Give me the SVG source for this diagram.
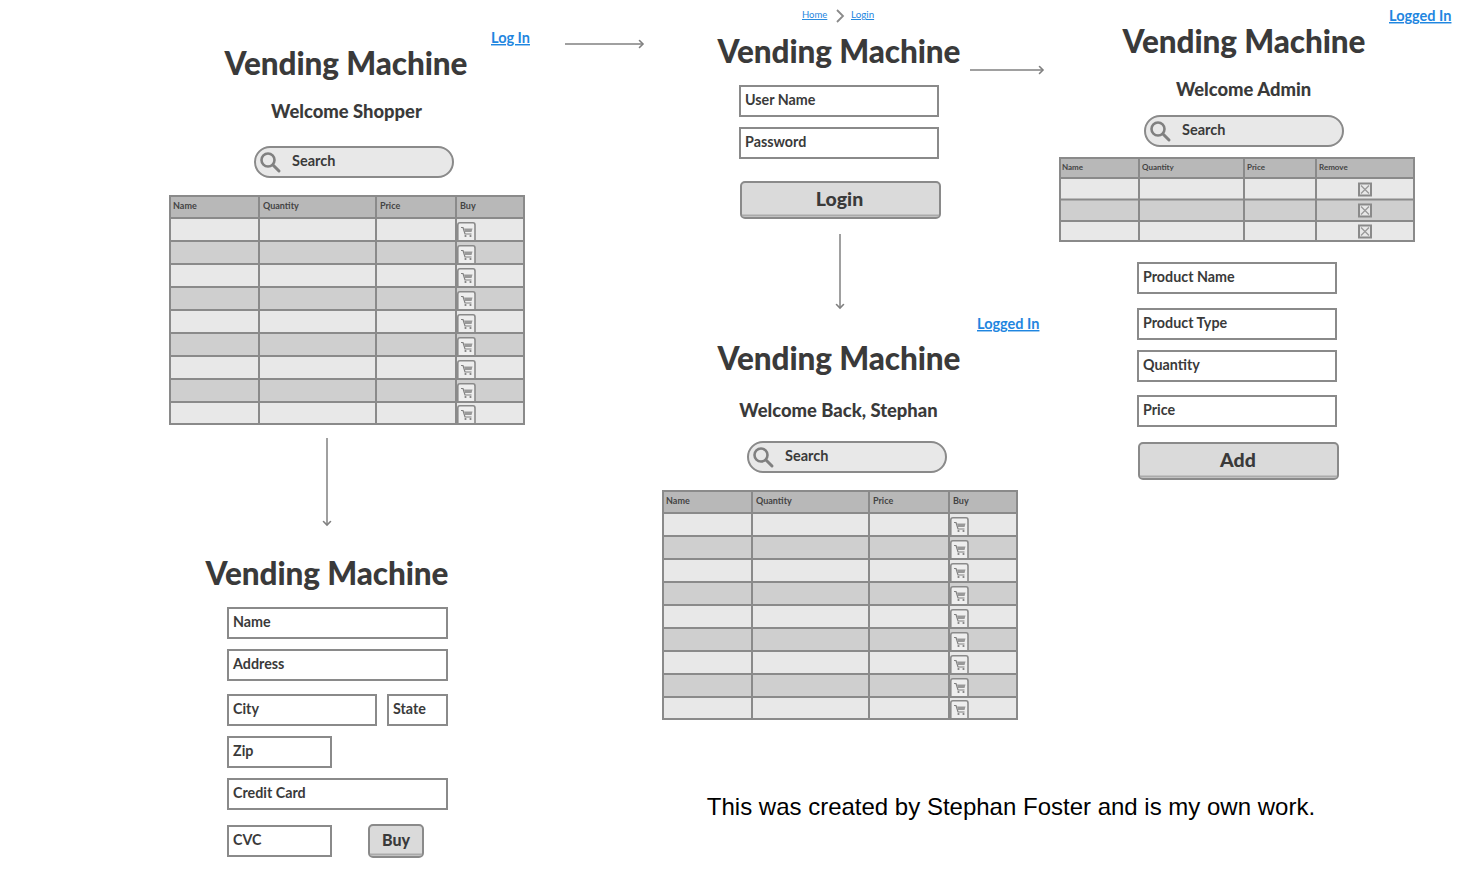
<svg xmlns="http://www.w3.org/2000/svg" width="1474" height="879" viewBox="0 0 1474 879">
<style>
text{font-family:Lato,"Open Sans",sans-serif;fill:#3a3a3a;font-weight:700}
.h{font-size:31.5px;text-anchor:middle;font-weight:900;letter-spacing:-.1px}
.w{font-size:18.4px;text-anchor:middle;font-weight:900}
.f{font-size:14.3px;font-weight:700}
.s{font-size:14.5px}
.t{font-size:9px;font-weight:700;fill:#444}
.b{font-size:19.5px;text-anchor:middle;font-weight:900}
.l{font-size:14.5px;fill:#1f86e0;text-decoration:underline}
.c{font-size:9.5px;fill:#1f86e0;font-weight:400;text-decoration:underline}
.box{fill:#fff;stroke:#8a8a8a;stroke-width:2}
.grid{stroke:#8a8a8a;stroke-width:2;fill:none}
.a{stroke:#808080;stroke-width:1.5;fill:none}
.ar{stroke:#808080;stroke-width:1.6;fill:none;stroke-linecap:round}
</style>
<defs>
<marker id="arr" markerWidth="10" markerHeight="10" refX="7" refY="5" orient="auto" markerUnits="userSpaceOnUse"><path d="M3.500 1.500L7 5L3.500 8.500" class="ar"/></marker>
<g id="search"><rect x="1" y="1" width="198" height="30" rx="15" fill="#e8e8e8" stroke="#8a8a8a" stroke-width="2"/><circle cx="14" cy="14" r="6.500" fill="none" stroke="#808080" stroke-width="2.600"/><path d="M19 19L25 25" stroke="#808080" stroke-width="3" stroke-linecap="round"/></g>
<g id="cart"><path d="M.8 18V3Q.8 .8 3 .8H16Q18 .8 18 3V18" fill="#eee" stroke="#8a8a8a" stroke-width="1.600"/><path d="M4 5.500h2l2 6.500h6.500" fill="none" stroke="#808080" stroke-width="1.200"/><path d="M7 6.500h8.500l-1 3.500H8z" fill="#999"/><circle cx="8.500" cy="14" r="1.100" fill="#808080"/><circle cx="13.500" cy="14" r="1.100" fill="#808080"/></g>
<g id="x"><rect x="1" y="1" width="12" height="12" fill="#e8e8e8" stroke="#8a8a8a" stroke-width="2"/><path d="M3 3L11 11M11 3L3 11" stroke="#999" stroke-width="1.300"/></g>
<g id="shoptable">
<rect x="0" y="0" width="356" height="23" fill="#b8b8b8"/>
<rect x="0" y="23" width="356" height="23" fill="#e8e8e8"/><rect x="0" y="46" width="356" height="23" fill="#cfcfcf"/><rect x="0" y="69" width="356" height="23" fill="#e8e8e8"/><rect x="0" y="92" width="356" height="23" fill="#cfcfcf"/><rect x="0" y="115" width="356" height="23" fill="#e8e8e8"/><rect x="0" y="138" width="356" height="23" fill="#cfcfcf"/><rect x="0" y="161" width="356" height="23" fill="#e8e8e8"/><rect x="0" y="184" width="356" height="23" fill="#cfcfcf"/><rect x="0" y="207" width="356" height="23" fill="#e8e8e8"/>
<path class="grid" d="M1 1H355V229H1ZM1 23H355M1 46H355M1 69H355M1 92H355M1 115H355M1 138H355M1 161H355M1 184H355M1 207H355M90 1V229M207 1V229M287 1V229"/>
<use href="#cart" x="288" y="27"/><use href="#cart" x="288" y="50"/><use href="#cart" x="288" y="73"/><use href="#cart" x="288" y="96"/><use href="#cart" x="288" y="119"/><use href="#cart" x="288" y="142"/><use href="#cart" x="288" y="165"/><use href="#cart" x="288" y="188"/><use href="#cart" x="288" y="210"/>
</g>
</defs>

<g id="connectors">
<path class="a" marker-end="url(#arr)" d="M565 44H643"/>
<path class="a" marker-end="url(#arr)" d="M970 70H1043"/>
<path class="a" marker-end="url(#arr)" d="M840 234V308"/>
<path class="a" marker-end="url(#arr)" d="M327 438V525"/>
</g>

<g id="screen-shopper">
<text class="l" x="491" y="43">Log In</text>
<text class="h" x="346" y="74.500">Vending Machine</text>
<text class="w" x="346.500" y="118">Welcome Shopper</text>
<use href="#search" x="254" y="146"/><text class="s" x="292" y="166">Search</text>
<use href="#shoptable" x="169" y="195"/>
<text class="t" x="173" y="209">Name</text><text class="t" x="263" y="209">Quantity</text><text class="t" x="380" y="209">Price</text><text class="t" x="460" y="209">Buy</text>
</g>

<g id="screen-checkout">
<text class="h" x="327" y="584.500">Vending Machine</text>
<rect class="box" x="228" y="608" width="219" height="30"/><text class="f" x="233" y="627">Name</text>
<rect class="box" x="228" y="650" width="219" height="30"/><text class="f" x="233" y="669">Address</text>
<rect class="box" x="228" y="695" width="148" height="30"/><text class="f" x="233" y="714">City</text>
<rect class="box" x="388" y="695" width="59" height="30"/><text class="f" x="393" y="714">State</text>
<rect class="box" x="228" y="737" width="103" height="30"/><text class="f" x="233" y="756">Zip</text>
<rect class="box" x="228" y="779" width="219" height="30"/><text class="f" x="233" y="798">Credit Card</text>
<rect class="box" x="228" y="826" width="103" height="30"/><text class="f" x="233" y="845">CVC</text>
<rect x="369" y="825" width="54" height="32" rx="4" fill="#dadada" stroke="#8a8a8a" stroke-width="2"/><path d="M370 854.500H422" stroke="#aaa" stroke-width="2"/>
<text class="b" x="396" y="846" style="font-size:16px">Buy</text>
</g>

<g id="screen-login">
<text class="c" x="802" y="18">Home</text>
<path d="M837 10L843 16L837 22" fill="none" stroke="#8a8a8a" stroke-width="1.800"/>
<text class="c" x="851" y="18" style="font-size:9.800px">Login</text>
<text class="h" x="839" y="62.500">Vending Machine</text>
<rect class="box" x="740" y="86" width="198" height="30"/><text class="f" x="745" y="105">User Name</text>
<rect class="box" x="740" y="128" width="198" height="30"/><text class="f" x="745" y="147">Password</text>
<rect x="741" y="182" width="199" height="36" rx="4" fill="#dadada" stroke="#8a8a8a" stroke-width="2"/><path d="M742 215.500H939" stroke="#aaa" stroke-width="2"/>
<text class="b" x="839.500" y="206">Login</text>
</g>

<g id="screen-member">
<text class="l" x="977" y="329">Logged In</text>
<text class="h" x="839" y="369.500">Vending Machine</text>
<text class="w" x="838.500" y="417">Welcome Back, Stephan</text>
<use href="#search" x="747" y="441"/><text class="s" x="785" y="461">Search</text>
<use href="#shoptable" x="662" y="490"/>
<text class="t" x="666" y="504">Name</text><text class="t" x="756" y="504">Quantity</text><text class="t" x="873" y="504">Price</text><text class="t" x="953" y="504">Buy</text>
</g>

<g id="screen-admin">
<text class="l" x="1389" y="21">Logged In</text>
<text class="h" x="1244" y="52.500">Vending Machine</text>
<text class="w" x="1243.500" y="96">Welcome Admin</text>
<use href="#search" x="1144" y="115"/><text class="s" x="1182" y="135">Search</text>
<rect x="1059" y="157" width="356" height="21" fill="#b8b8b8"/><rect x="1059" y="178" width="356" height="21" fill="#e8e8e8"/><rect x="1059" y="199" width="356" height="22" fill="#cfcfcf"/><rect x="1059" y="221" width="356" height="21" fill="#e8e8e8"/>
<path class="grid" d="M1060 158H1414V241H1060ZM1060 178H1414M1060 199.500H1414M1060 221H1414M1139 158V241M1244 158V241M1316 158V241"/>
<text class="t" x="1062" y="170" style="font-size:8px">Name</text><text class="t" x="1142" y="170" style="font-size:8px">Quantity</text><text class="t" x="1247" y="170" style="font-size:8px">Price</text><text class="t" x="1319" y="170" style="font-size:8px">Remove</text>
<use href="#x" x="1358" y="182.500"/><use href="#x" x="1358" y="203.500"/><use href="#x" x="1358" y="224.500"/>
<rect class="box" x="1138" y="263" width="198" height="30"/><text class="f" x="1143" y="282">Product Name</text>
<rect class="box" x="1138" y="309" width="198" height="30"/><text class="f" x="1143" y="328">Product Type</text>
<rect class="box" x="1138" y="351" width="198" height="30"/><text class="f" x="1143" y="370">Quantity</text>
<rect class="box" x="1138" y="396" width="198" height="30"/><text class="f" x="1143" y="415">Price</text>
<rect x="1139" y="443" width="199" height="36" rx="4" fill="#dadada" stroke="#8a8a8a" stroke-width="2"/><path d="M1140 476.500H1337" stroke="#aaa" stroke-width="2"/>
<text class="b" x="1238" y="467">Add</text>
</g>

<g id="credit">
<text x="706.800" y="815" style="font-family:'Liberation Sans',Arial,sans-serif;font-size:24px;font-weight:400;fill:#000">This was created by Stephan Foster and is my own work.</text>
</g>
</svg>
